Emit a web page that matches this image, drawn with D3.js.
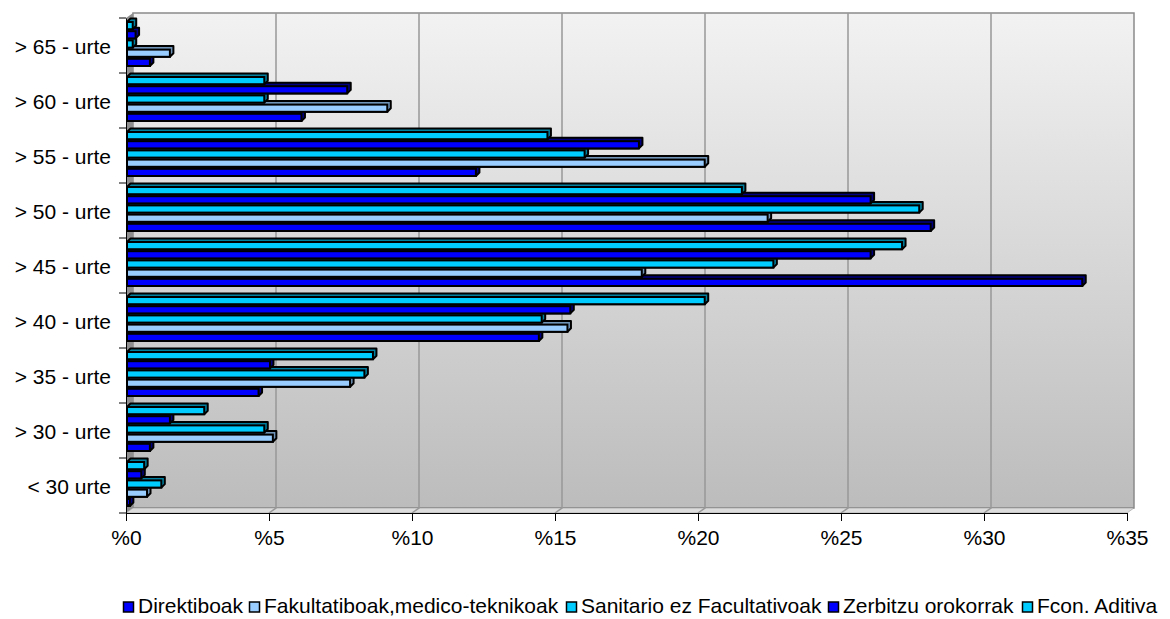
<!DOCTYPE html>
<html>
<head>
<meta charset="utf-8">
<script src="https://cdn.jsdelivr.net/npm/d3@7"></script>
<style>
html, body { margin: 0; padding: 0; background: #fff; }
text { font-family: "Liberation Sans", Arial, sans-serif; fill: #000; }
</style>
</head>
<body>
<div id="chart"></div>
<script>
const categories = ["< 30 urte", "> 30 - urte", "> 35 - urte", "> 40 - urte", "> 45 - urte", "> 50 - urte", "> 55 - urte", "> 60 - urte", "> 65 - urte"];
const seriesNames = ["Direktiboak", "Fakultatiboak,medico-teknikoak", "Sanitario ez Facultativoak", "Zerbitzu orokorrak", "Fcon. Aditiva"];
const direktiboak = [0.1, 0.8, 4.6, 14.4, 33.4, 28.1, 12.2, 6.1, 0.8];
const fakultatiboak = [0.7, 5.1, 7.8, 15.4, 18.0, 22.4, 20.2, 9.1, 1.5];
const sanitario = [1.2, 4.8, 8.3, 14.5, 22.6, 27.7, 16.0, 4.8, 0.2];
const zerbitzu = [0.5, 1.5, 5.0, 15.5, 26.0, 26.0, 17.9, 7.7, 0.3];
const fcon = [0.6, 2.7, 8.6, 20.2, 27.1, 21.5, 14.7, 4.8, 0.2];
const seriesValues = [direktiboak, fakultatiboak, sanitario, zerbitzu, fcon];
const colors = ["#0000ff", "#99ccff", "#00ccff", "#0000ff", "#00ccff"];
const sideColors = ["#000080", "#6f94b8", "#00809f", "#000080", "#00809f"];
const xTicks = [0, 5, 10, 15, 20, 25, 30, 35];
const legendX = [123, 249, 566, 828, 1022];

const width = 1170, height = 619;
const plotLeft = 126, plotRight = 1127, plotTop = 18, plotBottom = 513;
const depthX = 7, depthY = 5;
const barDepth = 3.5;
const fontSize = 21;

const svg = d3.select("#chart").append("svg")
	.attr("width", width)
	.attr("height", height)
	.style("display", "block");

const x = d3.scaleLinear().domain([0, 35]).range([plotLeft, plotRight]);
const y = d3.scaleBand().domain(categories).range([plotBottom, plotTop]);
const barY = d3.scaleBand().domain(d3.range(5)).range([y.bandwidth() - 5, 4]);

const defs = svg.append("defs");
const grad = defs.append("linearGradient").attr("id", "wall")
	.attr("x1", 0).attr("y1", 0).attr("x2", 0).attr("y2", 1);
grad.append("stop").attr("offset", 0).attr("stop-color", "#f2f2f2");
grad.append("stop").attr("offset", 1).attr("stop-color", "#bcbcbc");

// back wall, side wall and floor
svg.append("rect")
	.attr("x", plotLeft + depthX).attr("y", plotTop - depthY)
	.attr("width", plotRight - plotLeft).attr("height", plotBottom - plotTop)
	.attr("fill", "url(#wall)")
	.attr("stroke", "#8a8a8a").attr("stroke-width", 1.5);
svg.append("polygon")
	.attr("points", [[plotLeft, plotTop], [plotLeft + depthX, plotTop - depthY], [plotLeft + depthX, plotBottom - depthY], [plotLeft, plotBottom]].join(" "))
	.attr("fill", "#8f8f8f");
svg.append("polygon")
	.attr("points", [[plotLeft, plotBottom], [plotLeft + depthX, plotBottom - depthY], [plotRight + depthX, plotBottom - depthY], [plotRight, plotBottom]].join(" "))
	.attr("fill", "#dcdcdc")
	.attr("stroke", "#8a8a8a").attr("stroke-width", 0.5);

// gridlines on the wall
svg.selectAll(".grid")
	.data(xTicks.slice(1, -1))
	.enter().append("path")
	.attr("class", "grid")
	.attr("d", d => `M${x(d) + depthX},${plotTop - depthY}V${plotBottom - depthY}L${x(d)},${plotBottom}`)
	.attr("fill", "none")
	.attr("stroke", "#989898").attr("stroke-width", 1.5);

// bars, bottom series first so upper bars overlap
const series = svg.selectAll(".series")
	.data(seriesValues)
	.enter().append("g")
	.attr("class", "series")
	.attr("transform", "translate(1,0)");

const bar = series.selectAll("g")
	.data((vals, s) => vals.map((v, i) => ({ v: v, cat: categories[i], s: s })))
	.enter().append("g")
	.attr("transform", d => `translate(0,${y(d.cat) + barY(d.s)})`);

const barH = barY.bandwidth() - 2;
bar.append("polygon")
	.attr("points", d => {
		const w = x(d.v);
		return [[plotLeft, 0], [plotLeft + barDepth, -barDepth], [w + barDepth, -barDepth], [w + barDepth, barH - barDepth], [w, barH], [plotLeft, barH]].join(" ");
	})
	.attr("fill", d => sideColors[d.s])
	.attr("stroke", "#000").attr("stroke-width", 2).attr("stroke-linejoin", "round");
bar.append("rect")
	.attr("x", plotLeft)
	.attr("width", d => x(d.v) - plotLeft)
	.attr("height", barH)
	.attr("fill", d => colors[d.s])
	.attr("stroke", "#000").attr("stroke-width", 2);

// axes
const xAxis = svg.append("g")
	.attr("transform", `translate(0,${plotBottom})`)
	.call(d3.axisBottom(x).tickValues(xTicks).tickFormat(d => "%" + d).tickSize(8).tickSizeOuter(0));
xAxis.selectAll("text").attr("font-size", fontSize).attr("y", 32).attr("dy", 0);

const yAxis = svg.append("g")
	.attr("transform", `translate(${plotLeft},0)`)
	.call(d3.axisLeft(y).tickSize(0).tickPadding(15));
yAxis.selectAll("text").attr("font-size", fontSize).attr("dy", "0.42em");
yAxis.selectAll(".yt")
	.data(d3.range(10))
	.enter().append("line")
	.attr("x1", -7).attr("x2", 0)
	.attr("y1", d => plotBottom - d * y.step())
	.attr("y2", d => plotBottom - d * y.step())
	.attr("stroke", "#000");
svg.selectAll(".domain").attr("stroke", "#000");
xAxis.attr("font-family", null).attr("font-size", null);
yAxis.attr("font-family", null).attr("font-size", null);

// legend
const legend = svg.selectAll(".legend")
	.data(seriesNames)
	.enter().append("g")
	.attr("class", "legend")
	.attr("transform", (d, i) => `translate(${legendX[i]},600)`);
legend.append("rect")
	.attr("x", 0.5).attr("y", 2)
	.attr("width", 10).attr("height", 10)
	.attr("fill", (d, i) => colors[i])
	.attr("stroke", "#000").attr("stroke-width", 1.5);
legend.append("text")
	.attr("x", 15).attr("y", 13)
	.attr("font-size", fontSize)
	.text(d => d);
</script>
</body>
</html>
